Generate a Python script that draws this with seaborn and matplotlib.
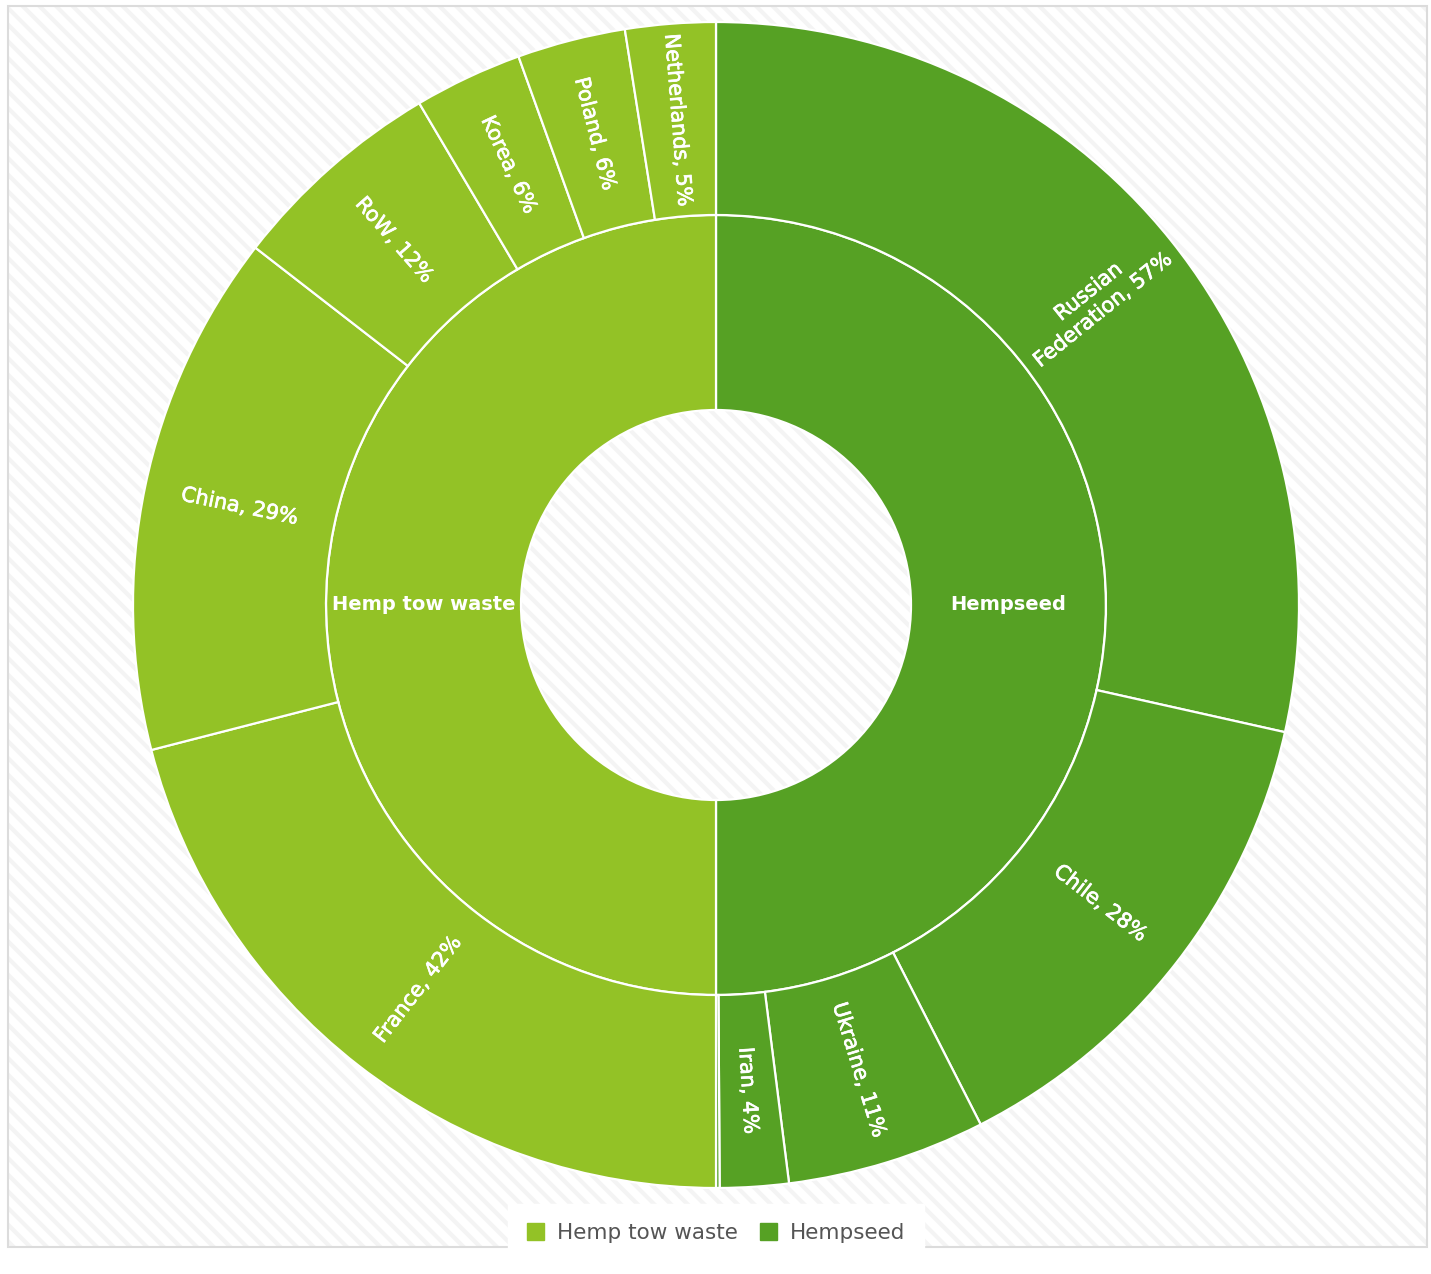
import matplotlib
matplotlib.use('Agg')
import matplotlib.pyplot as plt
from matplotlib.patches import Rectangle, Patch
import matplotlib.patheffects as pe
import seaborn as sns
import numpy as np

# inner ring (both halves are equal in the picture)
parents = ['Hempseed', 'Hemp tow waste']
parent_share = [50, 50]
# outer ring, share of each parent in %
hempseed_names = ['Russian\nFederation', 'Chile', 'Ukraine', 'Iran', '']
hempseed_pct = [57, 28, 11, 3.8, 0.2]
tow_names = ['France', 'China', 'RoW', 'Korea', 'Poland', 'Netherlands']
tow_pct = [42, 29, 12, 6, 6, 5]

sns.set_theme(style='white')
plt.rcParams['font.family'] = ['DejaVu Sans']
plt.rcParams['hatch.linewidth'] = 3.0

pal = {'Hemp tow waste': '#93c226', 'Hempseed': '#56a124'}

W, H = 1431, 1274
fig = plt.figure(figsize=(W / 100, H / 100), dpi=100)
fig.patch.set_facecolor('white')

# striped background + thin border
bg = fig.add_axes([0, 0, 1, 1])
bg.set_xlim(0, W)
bg.set_ylim(H, 0)
bg.axis('off')
bg.add_patch(Rectangle((8, 6), 1419, 1241, facecolor='white', edgecolor='#f4f4f4',
                       hatch='\\\\', lw=0))
bg.add_patch(Rectangle((8, 6), 1419, 1241, facecolor='none', edgecolor='#dcdcdc', lw=1.5))

# sunburst axes, centre at (716, 605) px, outer radius 583 px
R = 583
cx, cy = 716, 605
ax = fig.add_axes([(cx - 600) / W, (H - cy - 600) / H, 1200 / W, 1200 / H])
ax.patch.set_alpha(0)

outer_vals = [parent_share[0] * p / 100 for p in hempseed_pct] + \
             [parent_share[1] * p / 100 for p in tow_pct]
outer_cols = [pal['Hempseed']] * len(hempseed_pct) + [pal['Hemp tow waste']] * len(tow_pct)
outer_lbls = [f'{n}, {p:.0f}%' if n else '' for n, p in zip(hempseed_names, hempseed_pct)] + \
             [f'{n}, {p:.0f}%' for n, p in zip(tow_names, tow_pct)]

r_mid, r_hole = 390 / R, 195 / R
wp = dict(edgecolor='white', linewidth=1.6)

inner, _ = ax.pie(parent_share, radius=r_mid, startangle=90, counterclock=False,
                  colors=[pal[p] for p in parents],
                  wedgeprops=dict(width=r_mid - r_hole, **wp))
outer, _ = ax.pie(outer_vals, radius=1, startangle=90, counterclock=False,
                  colors=outer_cols, wedgeprops=dict(width=1 - r_mid, **wp))

thick = [pe.withStroke(linewidth=0.5, foreground='white')]
for w, lbl in zip(outer, outer_lbls):
    if not lbl:
        continue
    mid = (w.theta1 + w.theta2) / 2
    rot = ((mid + 90) % 180) - 90
    r = (1 + r_mid) / 2
    ax.text(r * np.cos(np.radians(mid)), r * np.sin(np.radians(mid)), lbl,
            rotation=rot, rotation_mode='anchor', ha='center', va='center',
            multialignment='center', color='white', fontsize=15, path_effects=thick)

for w, name in zip(inner, parents):
    mid = (w.theta1 + w.theta2) / 2
    r = (r_mid + r_hole) / 2
    ax.text(r * np.cos(np.radians(mid)), r * np.sin(np.radians(mid)), name,
            ha='center', va='center', color='white', fontsize=14, fontweight='bold')

ax.set_xlim(-600 / R, 600 / R)
ax.set_ylim(-600 / R, 600 / R)

handles = [Patch(color=pal['Hemp tow waste'], label='Hemp tow waste'),
           Patch(color=pal['Hempseed'], label='Hempseed')]
fig.legend(handles=handles, loc='center', bbox_to_anchor=(716 / W, 1 - 1233 / H), ncol=2,
           frameon=True, facecolor='white', edgecolor='white', framealpha=1, fancybox=False,
           handlelength=0.8, handleheight=0.8, fontsize=15.5, labelcolor='#555555',
           columnspacing=1.0, handletextpad=0.6, borderpad=0.9)

fig.savefig('out.png', dpi=100)
